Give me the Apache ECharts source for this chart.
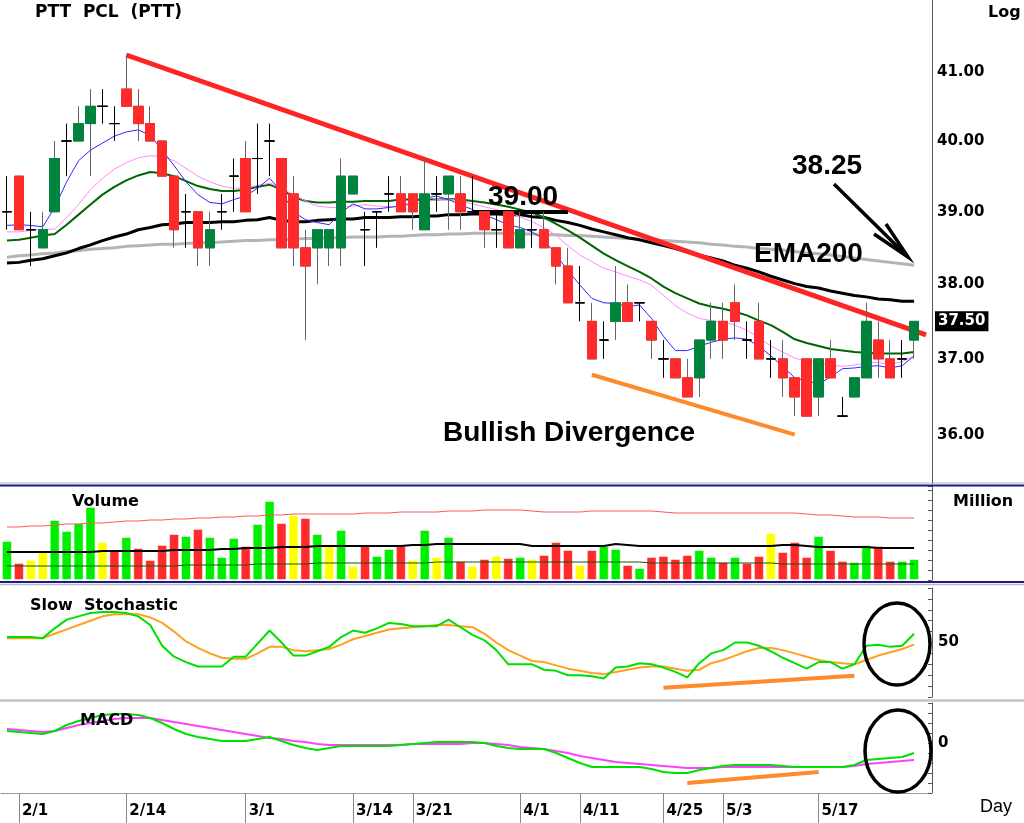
<!DOCTYPE html>
<html>
<head>
<meta charset="utf-8">
<script src="https://cdn.jsdelivr.net/npm/echarts@6/dist/echarts.min.js"></script>
<style>
html,body{margin:0;padding:0;background:#fff;}
#chart{width:1024px;height:823px;}
</style>
</head>
<body>
<div id="chart"></div>
<script>
// ---------------- DATA ----------------
const slotCount = 78; // 77 trading days + one empty slot at the right edge
const tickDays   = [1, 10, 20, 29, 34, 43, 48, 55, 60, 68];
const tickLabels = ['2/1','2/14','3/1','3/14','3/21','4/1','4/11','4/25','5/3','5/17'];
const priceTicks = [36, 37, 38, 39, 40, 41];
const lastPrice = 37.50;
const priorClose = 38.75;

const opens = [
 39.00,39.50,38.75,38.50,39.00,40.00,40.00,40.25,40.50,40.25,
 40.75,40.50,40.25,40.00,39.50,39.00,39.00,38.50,39.00,39.50,
 39.75,39.75,40.00,39.75,39.25,38.50,38.50,38.50,38.50,39.25,
 38.75,39.00,39.25,39.25,39.25,38.75,39.25,39.25,39.25,39.00,
 39.00,38.75,39.00,38.50,38.75,38.75,38.50,38.25,37.75,37.50,
 37.25,37.50,37.75,37.75,37.50,37.00,37.00,36.75,36.75,37.25,
 37.50,37.75,37.25,37.50,37.00,37.00,36.75,37.00,36.50,37.00,
 36.25,36.50,36.75,37.25,37.00,37.00,37.25];
const highs = [
 39.50,39.50,39.00,39.00,40.00,40.25,40.50,40.75,40.75,40.50,
 41.25,40.75,40.50,40.00,39.50,39.25,39.00,39.00,39.25,39.75,
 40.00,40.25,40.25,39.75,39.50,38.75,38.75,38.75,39.75,39.50,
 39.00,39.00,39.50,39.50,39.25,39.75,39.50,39.50,39.50,39.50,
 39.00,39.00,39.00,39.00,39.00,39.00,38.50,38.50,38.25,37.75,
 37.50,38.25,38.00,37.75,37.50,37.25,37.00,37.00,37.25,37.75,
 37.75,38.00,37.50,37.75,37.25,37.25,36.75,37.00,37.00,37.25,
 36.50,36.75,37.75,37.50,37.25,37.25,37.50];
const lows = [
 38.75,38.75,38.25,38.50,39.00,39.50,40.00,39.50,40.25,40.00,
 40.50,40.00,40.00,39.50,38.50,38.50,38.25,38.25,38.75,39.00,
 39.00,39.25,39.50,38.50,38.25,37.25,38.00,38.25,38.25,39.25,
 38.25,38.50,39.00,39.00,38.75,38.75,39.00,38.75,38.75,39.00,
 38.50,38.50,38.50,38.50,38.50,38.50,38.00,37.75,37.50,37.00,
 37.00,37.25,37.50,37.50,37.00,36.75,36.75,36.50,36.50,37.00,
 37.00,37.25,37.00,37.00,36.75,36.50,36.25,36.25,36.25,36.75,
 36.25,36.50,36.75,36.75,36.75,36.75,37.00];
const closes = [
 39.00,38.75,38.75,38.75,39.75,40.00,40.25,40.50,40.50,40.25,
 40.50,40.25,40.00,39.50,38.75,39.00,38.50,38.75,39.00,39.50,
 39.00,39.75,40.00,38.50,38.50,38.25,38.75,38.75,39.50,39.50,
 38.75,39.00,39.25,39.00,39.00,39.25,39.25,39.50,39.00,39.00,
 38.75,38.75,38.50,38.75,38.75,38.50,38.25,37.75,37.75,37.00,
 37.25,37.75,37.50,37.75,37.25,37.00,36.75,36.50,37.25,37.50,
 37.25,37.50,37.25,37.00,37.00,36.75,36.50,36.25,37.00,36.75,
 36.25,36.75,37.50,37.00,36.75,37.00,37.50];

const ma5 = [
 38.81,38.82,38.81,38.79,39.06,39.42,39.72,39.87,39.97,40.07,
 40.13,40.16,40.08,39.87,39.65,39.42,39.24,39.13,39.11,39.17,
 39.22,39.33,39.47,39.28,39.00,38.89,38.85,38.82,38.99,39.11,
 39.04,39.04,39.06,39.08,39.13,39.19,39.22,39.17,39.10,39.03,
 38.96,38.89,38.82,38.78,38.72,38.61,38.40,38.19,37.99,37.81,
 37.75,37.74,37.70,37.72,37.54,37.30,37.11,37.11,37.17,37.22,
 37.26,37.28,37.26,37.17,37.04,36.90,36.75,36.71,36.67,36.76,
 36.87,36.88,36.90,36.91,36.88,36.91,37.04];
const ma10 = [
 38.72,38.72,38.74,38.75,38.76,38.92,39.10,39.31,39.47,39.60,
 39.69,39.76,39.79,39.78,39.72,39.61,39.50,39.42,39.36,39.33,
 39.33,39.37,39.40,39.33,39.24,39.15,39.08,39.06,39.06,39.08,
 39.10,39.08,39.07,39.08,39.10,39.14,39.17,39.18,39.15,39.11,
 39.07,39.03,38.99,38.93,38.86,38.78,38.67,38.53,38.40,38.31,
 38.22,38.17,38.11,38.06,37.99,37.85,37.71,37.61,37.54,37.51,
 37.49,37.45,37.38,37.28,37.17,37.09,37.01,36.97,36.95,36.92,
 36.90,36.92,36.95,36.95,36.93,36.96,37.04];
const ma20 = [
 38.60,38.61,38.64,38.67,38.69,38.82,38.96,39.10,39.24,39.35,
 39.44,39.51,39.56,39.54,39.50,39.43,39.36,39.32,39.29,39.29,
 39.31,39.35,39.38,39.31,39.21,39.15,39.13,39.13,39.14,39.14,
 39.15,39.15,39.15,39.17,39.17,39.17,39.17,39.18,39.17,39.15,
 39.13,39.10,39.07,39.03,38.99,38.92,38.83,38.74,38.64,38.53,
 38.42,38.33,38.25,38.17,38.08,37.97,37.88,37.81,37.74,37.70,
 37.67,37.63,37.58,37.51,37.45,37.36,37.26,37.21,37.17,37.13,
 37.11,37.09,37.08,37.07,37.07,37.07,37.09];
const ema50 = [
 38.29,38.30,38.33,38.35,38.39,38.43,38.49,38.54,38.60,38.65,
 38.69,38.75,38.78,38.82,38.83,38.85,38.85,38.85,38.86,38.86,
 38.88,38.89,38.92,38.88,38.86,38.86,38.88,38.89,38.90,38.90,
 38.92,38.92,38.92,38.93,38.93,38.94,38.94,38.96,38.96,38.97,
 38.97,38.97,38.96,38.96,38.93,38.92,38.88,38.85,38.81,38.76,
 38.72,38.68,38.64,38.61,38.57,38.53,38.49,38.44,38.40,38.36,
 38.32,38.26,38.22,38.17,38.11,38.06,38.01,37.97,37.95,37.91,
 37.88,37.85,37.83,37.80,37.79,37.77,37.77];
const ema200 = [
 38.37,38.39,38.40,38.42,38.43,38.45,38.46,38.48,38.49,38.50,
 38.52,38.53,38.54,38.55,38.55,38.56,38.57,38.57,38.58,38.59,
 38.60,38.60,38.61,38.61,38.62,38.63,38.63,38.64,38.64,38.65,
 38.65,38.65,38.66,38.66,38.67,38.68,38.68,38.69,38.69,38.70,
 38.70,38.70,38.70,38.69,38.69,38.68,38.68,38.67,38.67,38.66,
 38.65,38.64,38.63,38.62,38.61,38.60,38.59,38.58,38.57,38.55,
 38.54,38.52,38.51,38.49,38.48,38.47,38.45,38.43,38.42,38.40,
 38.38,38.36,38.34,38.32,38.30,38.28,38.26];

const volumes = [
 39,17,20,29,60,49,57,73,38,30,
 43,32,20,35,46,44,51,43,23,42,
 34,56,79,57,65,62,46,36,50,14,
 34,24,31,34,20,50,23,43,19,14,
 21,24,22,23,21,25,38,30,15,30,
 34,31,15,12,23,24,21,25,30,23,
 18,23,17,24,47,28,38,23,44,30,
 19,18,35,34,19,19,21];
const volAvgLong = [
 53,53,54,54,55,56,56,57,57,58,
 59,59,60,60,61,61,62,62,63,63,
 64,64,65,65,66,66,66,66,66,66,
 67,67,67,68,68,68,68,69,69,69,
 70,70,70,70,69,68,68,68,68,69,
 69,69,69,69,69,68,67,67,67,67,
 67,67,67,67,67,67,67,66,65,65,
 64,63,63,63,62,62,62];
const volAvgMid = [
 28,28,28,28,28,28,28,28,29,29,
 29,29,29,29,30,30,30,30,31,31,
 32,32,32,33,33,33,34,34,34,34,
 34,34,34,34,35,35,36,36,36,36,
 36,36,36,36,34,34,34,34,34,34,
 34,36,35,34,34,34,34,34,34,34,
 34,34,34,34,34,35,35,34,33,33,
 33,33,33,32,32,32,32];
const volAvgShort = [
 14,14,14,14,14,14,14,14,14,14,
 14,14,14,14,14,15,15,15,15,15,
 15,16,16,16,16,16,17,17,17,17,
 17,17,17,17,17,17,18,18,18,18,
 18,18,18,18,18,18,18,18,18,18,
 18,18,18,18,17,17,17,17,17,17,
 17,17,17,17,17,16,16,16,16,16,
 16,16,16,16,16,16,16];

const stochK = [
 55,55,55,54,63,71,74,77,78,78,
 77,74,66,47,37,32,28,28,28,37,
 37,49,61,50,38,38,42,46,55,61,
 59,63,68,67,65,65,65,71,64,57,
 52,43,30,30,30,25,24,20,20,19,
 17,27,28,31,30,27,23,18,31,40,
 43,50,50,47,42,36,31,26,32,32,
 26,30,47,48,46,47,58];
const stochD = [
 54,54,54,54,58,62,66,70,74,76,
 76,76,73,68,60,51,45,40,36,35,
 35,40,46,46,43,42,43,44,48,53,
 56,59,62,63,64,65,66,66,65,64,
 58,50,43,38,33,32,29,26,24,22,
 21,23,25,27,28,28,26,24,25,31,
 34,38,42,45,45,43,40,37,34,32,
 31,30,34,38,41,44,48];

const macdLine = [
 0.12,0.11,0.10,0.09,0.12,0.18,0.22,0.25,0.28,0.29,
 0.29,0.28,0.25,0.20,0.14,0.09,0.06,0.04,0.02,0.02,
 0.02,0.04,0.06,0.02,-0.02,-0.05,-0.07,-0.05,-0.03,-0.03,
 -0.03,-0.03,-0.03,-0.02,-0.01,0.00,0.01,0.01,0.01,0.01,
 0.00,-0.03,-0.05,-0.06,-0.06,-0.06,-0.10,-0.15,-0.20,-0.24,
 -0.24,-0.24,-0.24,-0.24,-0.26,-0.29,-0.30,-0.30,-0.27,-0.25,
 -0.23,-0.22,-0.22,-0.22,-0.22,-0.23,-0.24,-0.24,-0.24,-0.24,
 -0.24,-0.22,-0.17,-0.16,-0.15,-0.14,-0.10];
const macdSignal = [
 0.14,0.13,0.12,0.11,0.12,0.15,0.18,0.20,0.22,0.24,
 0.25,0.25,0.25,0.23,0.21,0.19,0.17,0.15,0.13,0.11,
 0.09,0.07,0.05,0.04,0.02,0.01,-0.01,-0.02,-0.02,-0.02,
 -0.02,-0.02,-0.02,-0.02,-0.01,-0.01,-0.01,-0.01,-0.01,0.00,
 0.00,-0.01,-0.02,-0.04,-0.05,-0.06,-0.08,-0.10,-0.13,-0.15,
 -0.17,-0.19,-0.20,-0.21,-0.22,-0.23,-0.24,-0.25,-0.25,-0.25,
 -0.24,-0.24,-0.24,-0.24,-0.24,-0.24,-0.24,-0.24,-0.24,-0.24,
 -0.24,-0.23,-0.21,-0.20,-0.19,-0.18,-0.17];

// annotation lines in data units: [startIndex, startValue, endIndex, endValue]
const priceTrendDown   = [10, 41.25, 77, 37.32];
const priceLevel3900   = [39, 39.00, 47, 39.00];
const priceDivergence  = [49, 36.79, 66, 36.01];
const stochDivergence  = [55, 8.5, 71, 19.5];
const macdDivergence   = [57, -0.40, 68, -0.29];

// ---------------- BUILD ----------------
const categories = Array.from({length: slotCount}, (_, i) => String(i));
const candleData = opens.map((o, i) => [o, closes[i], lows[i], highs[i]]);
const bodyData = opens.map((o, i) => [o, closes[i], Math.min(o, closes[i]), Math.max(o, closes[i])]);
const UP_C = '#00843d', DOWN_C = '#ff2a2a';
const VOL_UP = '#00ee00', VOL_DOWN = '#ff2a2a', VOL_FLAT = '#ffff00';
const volData = volumes.map((v, i) => {
  const prev = i === 0 ? priorClose : closes[i - 1];
  const c = closes[i] > prev ? VOL_UP : (closes[i] < prev ? VOL_DOWN : VOL_FLAT);
  return {value: v, itemStyle: {color: c}};
});
const isTick = (idx) => tickDays.indexOf(idx) >= 0;
const seg = (a, style) => [{coord: [a[0], a[1]], lineStyle: style}, {coord: [a[2], a[3]]}];

const boldSmall = 'bold 16px "DejaVu Sans"';
const bigFont = 'bold 28px "Liberation Sans", Arial';

const chart = echarts.init(document.getElementById('chart'), null, {renderer: 'canvas'});
const grids = [
  {left: 1, right: 92, top: 0, height: 484},
  {left: 1, right: 92, top: 486, height: 94},
  {left: 1, right: 92, top: 588, height: 109},
  {left: 1, right: 92, top: 703, height: 90}
];
const xAxes = grids.map((g, k) => ({
  type: 'category', gridIndex: k, data: categories, boundaryGap: true,
  position: 'bottom',
  show: k === 3,
  axisLine: {show: true, onZero: false, lineStyle: {color: '#999', width: 1}},
  axisTick: {show: true, alignWithLabel: true, interval: (idx) => isTick(idx), length: 30, lineStyle: {color: '#888'}},
  axisLabel: {
    show: true, interval: (idx) => isTick(idx), align: 'left', margin: 11,
    padding: [0, 0, 0, 3],
    formatter: (v, idx) => { const j = tickDays.indexOf(Number(v)); return j >= 0 ? tickLabels[j] : ''; },
    fontFamily: 'DejaVu Sans', fontWeight: 'bold', fontSize: 15, color: '#000'
  },
  splitLine: {show: false}
}));
const axisLineStyle = {show: true, onZero: false, lineStyle: {color: '#555', width: 1}};
const rightLabel = {fontFamily: 'DejaVu Sans', fontWeight: 'bold', fontSize: 15, color: '#000', margin: 6};
const yAxes = [
  {type: 'log', logBase: 10, gridIndex: 0, position: 'right', min: 35.38, max: 42.07,
   axisLine: axisLineStyle, axisTick: {show: false}, axisLabel: {show: false}, splitLine: {show: false}, minorTick: {show: false}},
  {type: 'value', gridIndex: 1, position: 'right', min: 0, max: 94, interval: 10,
   axisLine: axisLineStyle, axisTick: {show: true, inside: true, length: 4, lineStyle: {color: '#555'}},
   axisLabel: {show: false}, splitLine: {show: false}},
  {type: 'value', gridIndex: 2, position: 'right', min: 0, max: 100, interval: 10,
   axisLine: axisLineStyle, axisTick: {show: true, inside: true, length: 4, lineStyle: {color: '#555'}},
   axisLabel: Object.assign({formatter: v => (v === 50 ? '50' : '')}, rightLabel), splitLine: {show: false}},
  {type: 'value', gridIndex: 3, position: 'right', min: -0.5, max: 0.4, interval: 0.1,
   axisLine: axisLineStyle, axisTick: {show: true, inside: true, length: 4, lineStyle: {color: '#555'}},
   axisLabel: Object.assign({formatter: v => (Math.abs(v) < 1e-9 ? '0' : '')}, rightLabel), splitLine: {show: false}}
];

const priceLine = (name, data, color, width, z) => ({
  name, type: 'line', xAxisIndex: 0, yAxisIndex: 0, data, symbol: 'none', z: z,
  lineStyle: {color, width}, silent: true
});

const series = [
  Object.assign(priceLine('EMA200', ema200, '#b4b4b4', 3, 2), {
    markLine: {
      silent: true, symbol: ['none', 'none'], z: 4, label: {show: false},
      data: [
        seg(priceTrendDown, {color: '#ff2424', width: 5, type: 'solid'}),
        seg(priceLevel3900, {color: '#000', width: 4, type: 'solid'}),
        seg(priceDivergence, {color: '#ff8a2a', width: 4, type: 'solid'})
      ]
    }
  }),
  priceLine('EMA50', ema50, '#000000', 3, 2),
  priceLine('MA20', ma20, '#006400', 2, 3),
  priceLine('MA10', ma10, '#ff88ff', 1, 3),
  priceLine('MA5', ma5, '#2a2aff', 1, 3),
  {
    name: 'wick', type: 'candlestick', xAxisIndex: 0, yAxisIndex: 0, data: candleData, barWidth: 10, z: 5,
    itemStyle: {color: 'rgba(0,0,0,0)', color0: 'rgba(0,0,0,0)', borderColor: '#666', borderColor0: '#666', borderColorDoji: '#000', borderWidth: 1},
    markLine: {
      silent: true, symbol: ['none', 'none'], z: 10,
      lineStyle: {color: 'rgba(0,0,0,0)', width: 0},
      label: {show: true, position: 'end', distance: 5, formatter: p => Number(p.value).toFixed(2),
              fontFamily: 'DejaVu Sans', fontWeight: 'bold', fontSize: 15, color: '#000'},
      data: priceTicks.map(v => ({yAxis: v})).concat([{
        yAxis: lastPrice,
        label: {backgroundColor: '#000', color: '#fff', padding: [3, 3, 2, 3], distance: 3}
      }])
    }
  },
  {
    name: 'body', type: 'candlestick', xAxisIndex: 0, yAxisIndex: 0, data: bodyData, barWidth: 10, z: 6,
    itemStyle: {color: UP_C, color0: DOWN_C, borderColor: UP_C, borderColor0: DOWN_C, borderColorDoji: '#000', borderWidth: 1}
  },
  {
    name: 'Volume', type: 'bar', xAxisIndex: 1, yAxisIndex: 1, data: volData, barWidth: 10, z: 2, silent: true,
    itemStyle: {borderColor: 'rgba(255,255,255,0.5)', borderWidth: 1}
  },
  {name: 'VolAvgLong', type: 'line', xAxisIndex: 1, yAxisIndex: 1, data: volAvgLong, symbol: 'none', z: 3, silent: true, lineStyle: {color: '#ff5a5a', width: 1.2}},
  {name: 'VolAvgMid', type: 'line', xAxisIndex: 1, yAxisIndex: 1, data: volAvgMid, symbol: 'none', z: 3, silent: true, lineStyle: {color: '#000', width: 2}},
  {name: 'VolAvgShort', type: 'line', xAxisIndex: 1, yAxisIndex: 1, data: volAvgShort, symbol: 'none', z: 3, silent: true, lineStyle: {color: '#0a5a0a', width: 1}},
  {name: '%D', type: 'line', xAxisIndex: 2, yAxisIndex: 2, data: stochD, symbol: 'none', z: 3, silent: true, lineStyle: {color: '#ffa01e', width: 2}},
  {name: '%K', type: 'line', xAxisIndex: 2, yAxisIndex: 2, data: stochK, symbol: 'none', z: 3, silent: true, lineStyle: {color: '#00e000', width: 2},
   markLine: {silent: true, symbol: ['none', 'none'], z: 4, label: {show: false},
              data: [seg(stochDivergence, {color: '#ff8a2a', width: 4, type: 'solid'})]}},
  {name: 'Signal', type: 'line', xAxisIndex: 3, yAxisIndex: 3, data: macdSignal, symbol: 'none', z: 3, silent: true, lineStyle: {color: '#ff40ff', width: 2}},
  {name: 'MACD', type: 'line', xAxisIndex: 3, yAxisIndex: 3, data: macdLine, symbol: 'none', z: 3, silent: true, lineStyle: {color: '#00e000', width: 2},
   markLine: {silent: true, symbol: ['none', 'none'], z: 4, label: {show: false},
              data: [seg(macdDivergence, {color: '#ff8a2a', width: 4, type: 'solid'})]}}
];

const txt = (text, x, y, font, extra) => ({
  type: 'text', z: 50, silent: true,
  style: Object.assign({text, x, y, font, fill: '#000', align: 'left', verticalAlign: 'middle'}, extra || {})
});
const hline = (y, color, w) => ({type: 'line', z: 40, silent: true, shape: {x1: 0, y1: y, x2: 1024, y2: y}, style: {stroke: color, lineWidth: w}});

const graphic = [
  hline(483, '#b8b8b8', 1),
  hline(485.5, '#1a1a8a', 2),
  hline(582, '#1a1a8a', 2),
  hline(584.5, '#b8b8b8', 1.5),
  hline(700.5, '#c4c4c4', 2.5),
  txt('PTT  PCL  (PTT)', 35, 13, 'bold 17px "DejaVu Sans"'),
  txt('Log', 988, 13, boldSmall),
  txt('39.00', 488, 197, bigFont),
  txt('38.25', 792, 166, bigFont),
  txt('EMA200', 754, 254, bigFont),
  txt('Bullish Divergence', 443, 433, bigFont),
  txt('Volume', 72, 502, boldSmall),
  txt('Million', 953, 502, boldSmall),
  txt('Slow  Stochastic', 30, 606, boldSmall),
  txt('MACD', 80, 721, boldSmall),
  txt('Day', 980, 807, '18px "Liberation Sans", Arial'),
  {type: 'line', z: 45, silent: true, shape: {x1: 834, y1: 184, x2: 907, y2: 256}, style: {stroke: '#000', lineWidth: 3.5}},
  {type: 'polyline', z: 45, silent: true, shape: {points: [[874, 234], [908, 257], [886, 224]]}, style: {stroke: '#000', lineWidth: 3.5, fill: null}},
  {type: 'ellipse', z: 45, silent: true, shape: {cx: 897, cy: 644, rx: 33, ry: 41}, style: {stroke: '#000', lineWidth: 3.5, fill: null}},
  {type: 'ellipse', z: 45, silent: true, shape: {cx: 898, cy: 751, rx: 33, ry: 41}, style: {stroke: '#000', lineWidth: 3.5, fill: null}}
];

chart.setOption({
  animation: false,
  backgroundColor: '#ffffff',
  grid: grids,
  xAxis: xAxes,
  yAxis: yAxes,
  series: series,
  graphic: graphic
});
</script>
</body>
</html>
